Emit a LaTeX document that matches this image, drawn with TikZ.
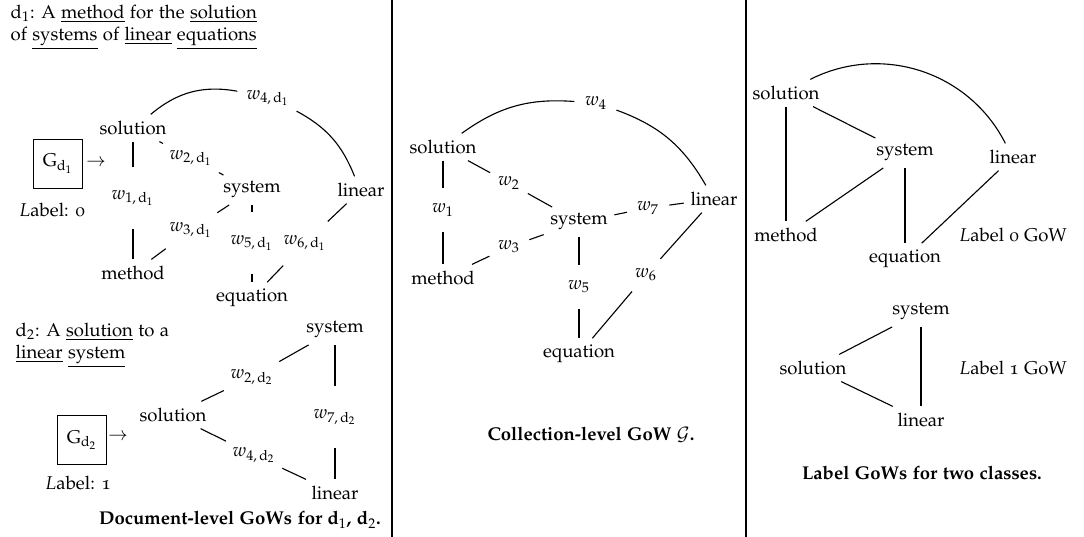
\documentclass[tikz,border=0pt]{standalone}
\usepackage[T1]{fontenc}
\usepackage[osf]{mathpazo}
\usepackage{amsmath}
\usepackage{amssymb}
\usepackage{tikz}
\usepackage{xcolor}

\tikzset{
  weight/.style={circle},
  gbox/.style={draw, minimum size=26pt, inner sep=2pt},
  capt/.style={font=\bfseries},
}

\begin{document}
\begin{tikzpicture}[x=0.54pt,y=-0.54pt,semithick]
            \useasboundingbox (0,0) rectangle (1084,537);
            \draw (392,0) -- (392,537);
            \draw (746,0) -- (746,537);

            % document-level GoWs
            \node[anchor=west, align=left] (Desc1) at (4,27) {d$_1$: A \underline{method} for the \underline{solution}\\of \underline{systems} of \underline{linear} \underline{equations}};
            \node[gbox] (Gd1) at (58,164) {G$_{\mathrm{d}_1}$};
            \node (Arrow1) at (96,163) {$\rightarrow$};
            \node (Label1) at (52,210) {$L$abel: 0};
            \node (Solution1) at (133,128) {solution};
            \node[weight] (W1d1) at (133,198) {$w_{1,\,\mathrm{d}_1}$};
            \node (Method1) at (133,273) {method};
            \node[weight] (W2d1) at (191,158) {$w_{2,\,\mathrm{d}_1}$};
            \node (System1) at (252,190) {system};
            \node[weight] (W3d1) at (191,230) {$w_{3,\,\mathrm{d}_1}$};
            \node[weight] (W5d1) at (252,243) {$w_{5,\,\mathrm{d}_1}$};
            \node[weight] (W6d1) at (305,243) {$w_{6,\,\mathrm{d}_1}$};
            \node (Equation1) at (252,298) {equation};
            \node (Linear1) at (361,190) {linear};
            \node[weight] (W4d1) at (268,98) {$w_{4,\,\mathrm{d}_1}$};

            \draw (Solution1) -- (W1d1);
            \draw (W1d1) -- (Method1);
            \draw (Solution1) -- (W2d1);
            \draw (W2d1) -- (System1);
            \draw (Method1) -- (W3d1);
            \draw (W3d1) -- (System1);
            \draw (System1) -- (W5d1);
            \draw (W5d1) -- (Equation1);
            \draw (Equation1) -- (W6d1);
            \draw (W6d1) -- (Linear1);
            \draw (Solution1) to[bend left=25] (W4d1);
            \draw (W4d1) to[bend left=20] (Linear1);

            \node[anchor=west, align=left] (Desc2) at (9,345) {d$_2$: A \underline{solution} to a\\\underline{linear} \underline{system}};
            \node[gbox] (Gd2) at (82,440) {G$_{\mathrm{d}_2}$};
            \node (Arrow2) at (118,437) {$\rightarrow$};
            \node (Label2) at (78,483) {$L$abel: 1};
            \node (Solution2) at (173,415) {solution};
            \node[weight] (W2d2) at (252,377) {$w_{2,\,\mathrm{d}_2}$};
            \node (System2) at (335,330) {system};
            \node[weight] (W7d2) at (335,417) {$w_{7,\,\mathrm{d}_2}$};
            \node[weight] (W4d2) at (254,455) {$w_{4,\,\mathrm{d}_2}$};
            \node (Linear2) at (335,493) {linear};

            \draw (Solution2) -- (W2d2);
            \draw (W2d2) -- (System2);
            \draw (System2) -- (W7d2);
            \draw (W7d2) -- (Linear2);
            \draw (Solution2) -- (W4d2);
            \draw (W4d2) -- (Linear2);

            \node[capt] (CaptDoc) at (240,520) {Document-level GoWs for d$_1$, d$_2$.};

            % collection-level GoW
            \node (SolutionC) at (443,147) {solution};
            \node[weight] (W1) at (443,210) {$w_1$};
            \node (MethodC) at (443,278) {method};
            \node[weight] (W2) at (509,183) {$w_2$};
            \node (SystemC) at (579,222) {system};
            \node[weight] (W3) at (509,247) {$w_3$};
            \node[weight] (W5) at (579,287) {$w_5$};
            \node (EquationC) at (579,354) {equation};
            \node[weight] (W6) at (646,275) {$w_6$};
            \node[weight] (W7) at (648,208) {$w_7$};
            \node (LinearC) at (714,199) {linear};
            \node[weight] (W4) at (596,103) {$w_4$};

            \draw (SolutionC) -- (W1);
            \draw (W1) -- (MethodC);
            \draw (SolutionC) -- (W2);
            \draw (W2) -- (SystemC);
            \draw (MethodC) -- (W3);
            \draw (W3) -- (SystemC);
            \draw (SystemC) -- (W5);
            \draw (W5) -- (EquationC);
            \draw (EquationC) -- (W6);
            \draw (W6) -- (LinearC);
            \draw (SystemC) -- (W7);
            \draw (W7) -- (LinearC);
            \draw (SolutionC) to[bend left=20] (W4);
            \draw (W4) to[bend left=20] (LinearC);

            \node[capt] (CaptColl) at (591,435) {Collection-level GoW $\mathcal{G}$.};

            % label GoWs
            \node (SolutionL0) at (786,93) {solution};
            \node (SystemL0) at (905,153) {system};
            \node (LinearL0) at (1013,157) {linear};
            \node (MethodL0) at (786,235) {method};
            \node (EquationL0) at (905,259) {equation};
            \node (LabelZero) at (1013,235) {$L$abel 0 GoW};

            \draw (SolutionL0) -- (MethodL0);
            \draw (SolutionL0) -- (SystemL0);
            \draw (SystemL0) -- (MethodL0);
            \draw (SystemL0) -- (EquationL0);
            \draw (LinearL0) -- (EquationL0);
            \draw (SolutionL0) to[bend left=45] (LinearL0);

            \node (SystemL1) at (921,312) {system};
            \node (SolutionL1) at (813,368) {solution};
            \node (LinearL1) at (921,420) {linear};
            \node (LabelOne) at (1013,368) {$L$abel 1 GoW};

            \draw (SystemL1) -- (SolutionL1);
            \draw (SolutionL1) -- (LinearL1);
            \draw (SystemL1) -- (LinearL1);

            \node[capt] (CaptLabel) at (922,473) {Label GoWs for two classes.};
        \end{tikzpicture}
\end{document}
